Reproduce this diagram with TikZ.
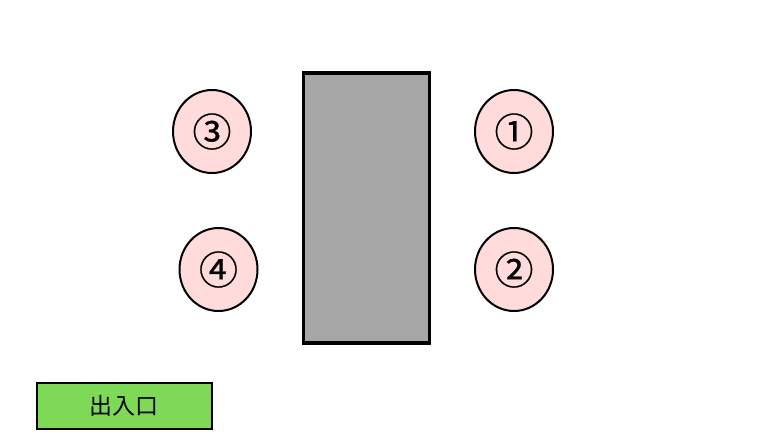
\documentclass[tikz,border=0pt]{standalone}
\usepackage{fontspec}
\setmainfont{Noto Sans CJK JP}
\newfontfamily\seatfont[FakeBold=0.6]{Noto Sans CJK JP}
\usetikzlibrary{shapes.geometric}
\tikzstyle{seat} = [ellipse, minimum width=78pt, minimum height=83pt, inner sep=0pt, draw=black, line width=2pt, fill=red!14, font=\seatfont\fontsize{39}{41}\selectfont]
\tikzstyle{desk} = [rectangle, minimum width=126pt, minimum height=270pt, draw=black, line width=3.5pt, fill=black!35]
\tikzstyle{door} = [rectangle, minimum width=175pt, minimum height=46pt, draw=black, line width=2pt, fill={rgb,255:red,126;green,217;blue,87}, font=\fontsize{23}{26}\selectfont]

\begin{document}
\begin{tikzpicture}[x=1pt, y=-1pt]
		\useasboundingbox (0,0) rectangle (768,432);
		\node (tbl) [desk] at (366.5,208) {};
		\node (s1) [seat] at (514,131.5) {①};
		\node (s2) [seat] at (514,269.5) {②};
		\node (s3) [seat] at (212,131.5) {③};
		\node (s4) [seat] at (218.5,269.5) {④};
		\node (exit) [door] at (124,405.5) {出入口};
	\end{tikzpicture}
\end{document}
